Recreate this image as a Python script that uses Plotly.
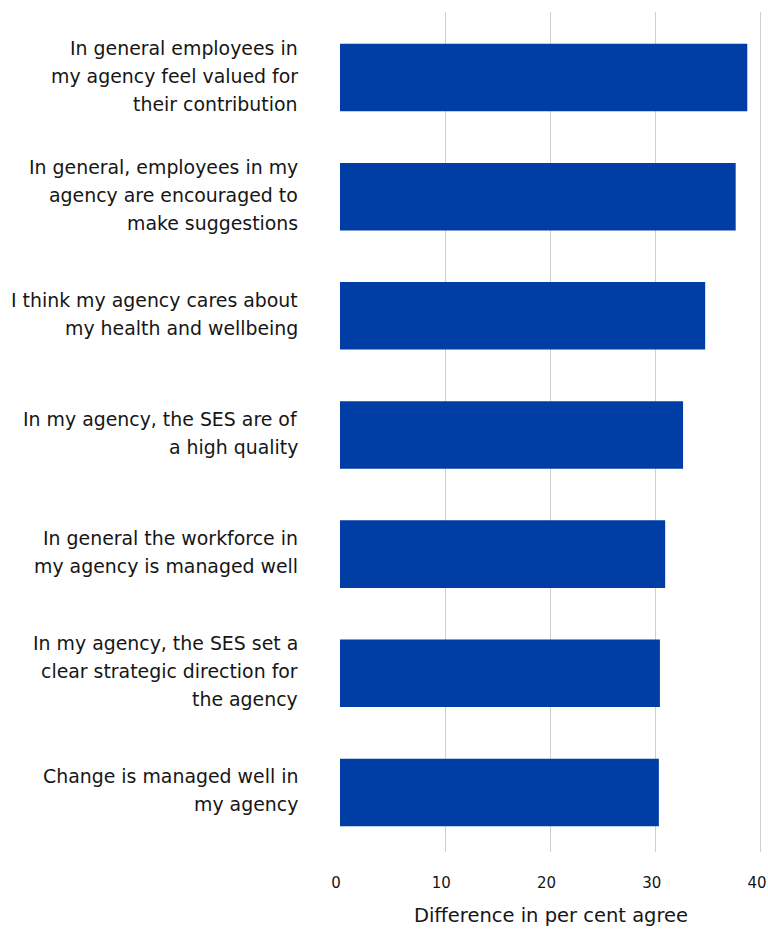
import plotly.graph_objects as go

# 数据
questions = [
    "In general employees in<br>my agency feel valued for<br>their contribution",
    "In general, employees in my<br>agency are encouraged to<br>make suggestions",
    "I think my agency cares about<br>my health and wellbeing",
    "In my agency, the SES are of<br>a high quality",
    "In general the workforce in<br>my agency is managed well",
    "In my agency, the SES set a<br>clear strategic direction for<br>the agency",
    "Change is managed well in<br>my agency",
]
diff_agree = [38.7, 37.6, 34.7, 32.6, 30.9, 30.4, 30.3]
x_ticks = [0, 10, 20, 30, 40]

BAR_COLOR = '#003da5'
TEXT_COLOR = '#161616'
FONT = 'DejaVu Sans'
LINE_H = 28

fig = go.Figure()
fig.add_trace(go.Bar(
    x=diff_agree, y=list(range(len(questions))), orientation='h',
    marker=dict(color=BAR_COLOR, line=dict(width=0)),
    width=0.567, hoverinfo='x',
))

# 多行类别标签：用注释逐行排布，行距比 plotly 默认更大
for i, q in enumerate(questions):
    lines = q.split('<br>')
    n = len(lines)
    for j, ln in enumerate(lines):
        fig.add_annotation(
            x=0, xref='paper', y=i, yref='y',
            text=ln, showarrow=False, xanchor='right', yanchor='middle',
            xshift=-40, yshift=((n - 1) / 2 - j) * LINE_H + 2,
            font=dict(family=FONT, size=18.9, color=TEXT_COLOR),
        )

fig.update_layout(
    width=768, height=940,
    margin=dict(l=340, r=6, t=12, b=88),
    paper_bgcolor='white', plot_bgcolor='white',
    showlegend=False,
    font=dict(family=FONT, color=TEXT_COLOR),
)
fig.update_xaxes(
    range=[0, 40.1], tickvals=x_ticks, ticktext=[str(v) for v in x_ticks],
    showgrid=True, gridcolor='#cfcfcf', gridwidth=1, zeroline=False,
    showline=False, ticks='', ticklabelstandoff=20, automargin=False,
    ticklabeloverflow='allow', ticklabelshift=-4,
    tickfont=dict(family=FONT, size=15, color=TEXT_COLOR),
    title=dict(text='Difference in per cent agree', standoff=17,
               font=dict(family=FONT, size=19.5, color=TEXT_COLOR)),
)
fig.update_yaxes(
    range=[6.5, -0.55], showticklabels=False, showgrid=False,
    zeroline=False, showline=False, ticks='', automargin=False,
)

# 去掉页面 body 的默认 8px 边距，让图正好铺满 768x940；隐藏工具栏
fig.write_html("out.html", config={'displayModeBar': False},
               post_script="document.body.style.margin='0';")
